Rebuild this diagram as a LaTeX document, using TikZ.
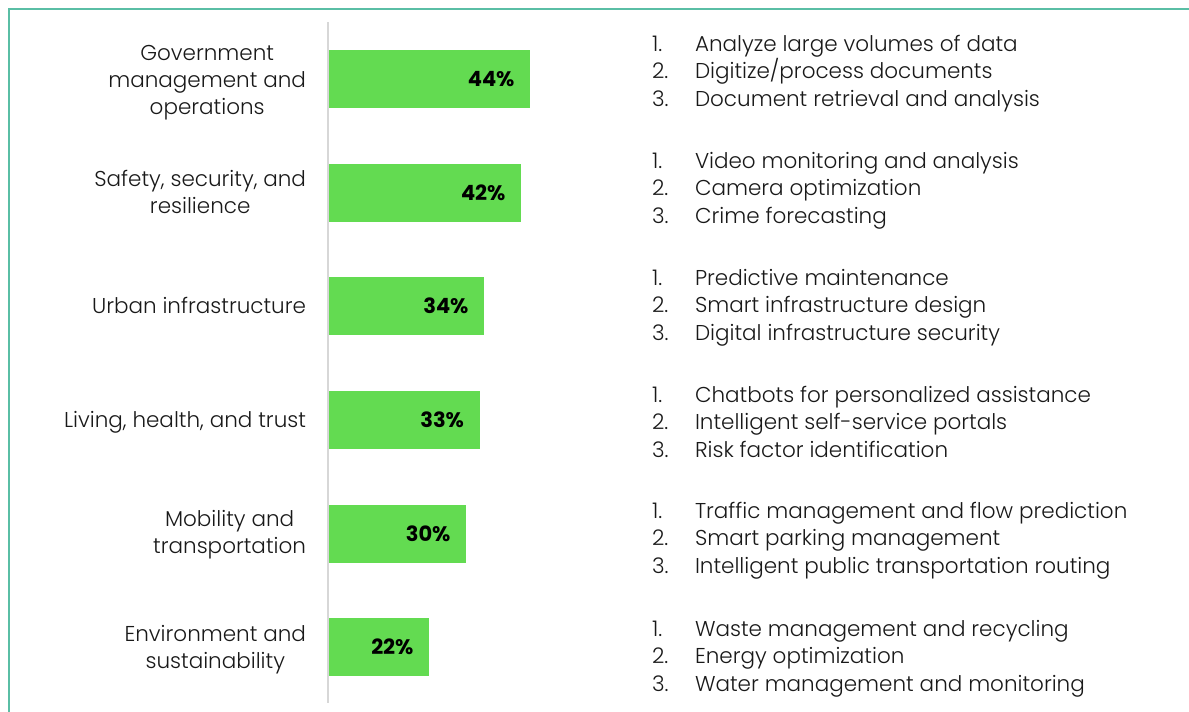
\documentclass[tikz,border=0pt]{standalone}
\usepackage{fontspec}
\setmainfont{Poppins}[UprightFont=* Light, BoldFont=* Bold]
\definecolor{framecol}{RGB}{90,190,165}
\definecolor{barcol}{RGB}{99,219,81}
\definecolor{axiscol}{RGB}{215,215,215}
\definecolor{txtcol}{RGB}{25,25,25}
\tikzset{
  lbl/.style={inner sep=0pt, outer sep=0pt, align=center, anchor=east, text=txtcol,
    font=\fontsize{21.5}{27}\selectfont},
  bar/.style={fill=barcol, draw=none, inner sep=0pt, outer sep=0pt, minimum height=58pt, anchor=west},
  pct/.style={inner sep=0pt, outer sep=0pt, anchor=base east, text=black,
    font=\fontsize{21}{25}\selectfont\bfseries},
  num/.style={inner sep=0pt, outer sep=0pt, anchor=base west, text=txtcol,
    font=\fontsize{21.5}{27}\selectfont},
  item/.style={num},
}
\newcommand{\sr}{\strut}
\begin{document}
\begin{tikzpicture}[x=1pt,y=-1pt]
\useasboundingbox (0,0) rectangle (1189,712);
% frame
\draw[framecol, line width=2pt] (1195,8.5) -- (8.5,8.5) -- (8.5,720);
% axis
\coordinate (axtop) at (328,22);
\coordinate (axbot) at (328,703);
\draw[axiscol, line width=1.5pt] (axtop) -- (axbot);
% bars
\node[bar, minimum width=201pt] (b1) at (329,79) {};
\node[bar, minimum width=192pt] (b2) at (329,193) {};
\node[bar, minimum width=155pt] (b3) at (329,306) {};
\node[bar, minimum width=150.5pt] (b4) at (329,420) {};
\node[bar, minimum width=137pt] (b5) at (329,534) {};
\node[bar, minimum width=100pt] (b6) at (329,647) {};
% percentages
\node[pct] (p1) at ([xshift=-15.5pt,yshift=-7.5pt]b1.east) {44\%};
\node[pct] (p2) at ([xshift=-15.5pt,yshift=-7.5pt]b2.east) {42\%};
\node[pct] (p3) at ([xshift=-15.5pt,yshift=-7.5pt]b3.east) {34\%};
\node[pct] (p4) at ([xshift=-15.5pt,yshift=-7.5pt]b4.east) {33\%};
\node[pct] (p5) at ([xshift=-15.5pt,yshift=-7.5pt]b5.east) {30\%};
\node[pct] (p6) at ([xshift=-15.5pt,yshift=-7.5pt]b6.east) {22\%};
% left labels (centre = mean baseline - 0.2*27)
\node[lbl] (l1) at (306,81.6) {\sr Government\\\sr management and\\\sr operations};
\node[lbl] (l2) at (306,194.6) {\sr Safety, security, and\\\sr resilience};
\node[lbl] (l3) at (306,307.6) {\sr Urban infrastructure};
\node[lbl] (l4) at (306,421.6) {\sr Living, health, and trust};
\node[lbl] (l5) at (306,534.6) {\sr Mobility and\\\sr transportation};
\node[lbl] (l6) at (306,649.6) {\sr Environment and\\\sr sustainability};
% right lists
\foreach \g/\ya/\yb/\yc/\ta/\tb/\tc in {
  1/51.5/78.5/106/{Analyze large volumes of data}/{Digitize/process documents}/{Document retrieval and analysis},
  2/168/195.5/223/{Video monitoring and analysis}/{Camera optimization}/{Crime forecasting},
  3/285/312.5/340/{Predictive maintenance}/{Smart infrastructure design}/{Digital infrastructure security},
  4/402/429.5/457/{Chatbots for personalized assistance}/{Intelligent self-service portals}/{Risk factor identification},
  5/518/545.5/573/{Traffic management and flow prediction}/{Smart parking management}/{Intelligent public transportation routing},
  6/636/663.5/691/{Waste management and recycling}/{Energy optimization}/{Water management and monitoring}}{
  \node[num] (n\g a) at (652,\ya) {1.};
  \node[num] (n\g b) at (652,\yb) {2.};
  \node[num] (n\g c) at (652,\yc) {3.};
  \node[item] (r\g a) at (695,\ya) {\ta};
  \node[item] (r\g b) at (695,\yb) {\tb};
  \node[item] (r\g c) at (695,\yc) {\tc};
}
\end{tikzpicture}
\end{document}
